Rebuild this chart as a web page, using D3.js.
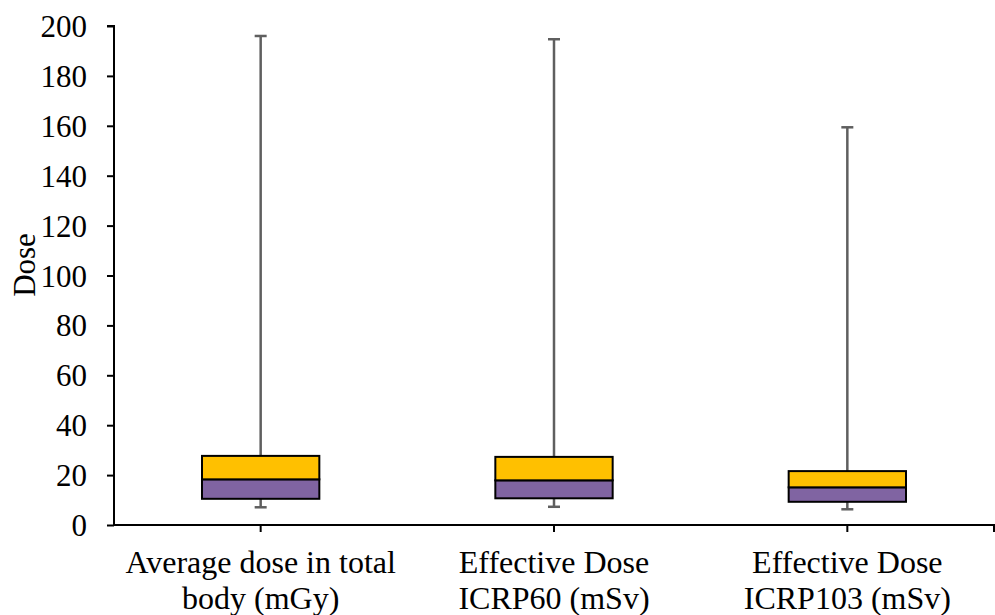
<!DOCTYPE html>
<html><head><meta charset="utf-8">
<script src="https://cdn.jsdelivr.net/npm/d3@7"></script>
<style>body{margin:0;background:#fff}svg{display:block}text{font-family:"Liberation Serif","Times New Roman",serif;fill:#000}</style>
</head><body><svg id="c" width="995" height="615"></svg>
<script>
const categories = [["Average dose in total","body (mGy)"],["Effective Dose","ICRP60 (mSv)"],["Effective Dose","ICRP103 (mSv)"]];
const minValues = [7.1, 7.3, 6.3];
const q1Values = [10.5, 10.7, 9.3];
const medianValues = [18.3, 17.9, 15.1];
const q3Values = [27.7, 27.3, 21.6];
const maxValues = [196, 194.7, 159.4];
const yTicks = [0,20,40,60,80,100,120,140,160,180,200];

const svg = d3.select("#c");
const m = {l:114, r:994, t:26, b:525};
const x = d3.scaleBand().domain(d3.range(categories.length)).range([m.l, m.r]).paddingInner(0.6).paddingOuter(0.3);
const y = d3.scaleLinear().domain([0,200]).range([m.b, m.t]);

const g = svg.append("g");
// y axis
const ya = d3.axisLeft(y).tickValues(yTicks).tickSize(7).tickPadding(20);
const yg = svg.append("g").attr("transform",`translate(${m.l},0)`).call(ya);
yg.select(".domain").attr("stroke","#000").attr("stroke-width",2).attr("d",`M-7,${m.t}H0V${m.b}`);
yg.selectAll(".tick line").attr("stroke","#000").attr("stroke-width",2);
yg.selectAll(".tick text").style("font-size","31px").attr("dy","0.34em");

// x axis
const centers = d3.range(categories.length).map(i => x(i)+x.bandwidth()/2);
svg.append("line").attr("x1",m.l).attr("x2",m.r+1).attr("y1",m.b).attr("y2",m.b).attr("stroke","#000").attr("stroke-width",2);
[...centers, m.r].forEach(cx => {
  svg.append("line").attr("x1",cx).attr("x2",cx).attr("y1",m.b).attr("y2",m.b+7).attr("stroke","#000").attr("stroke-width",2);
});
categories.forEach((lines,i)=>{
  const t = svg.append("text").attr("x",centers[i]).attr("y",573).attr("text-anchor","middle").style("font-size","32px");
  lines.forEach((ln,j)=> t.append("tspan").attr("x",centers[i]).attr("dy", j===0?0:36).text(ln));
});

// y label
svg.append("text").attr("transform","translate(35,265) rotate(-90)").attr("text-anchor","middle").style("font-size","31px").text("Dose");

// boxes
const bw = x.bandwidth();
d3.range(categories.length).forEach(i=>{
  const cx = centers[i];
  g.append("line").attr("x1",cx).attr("x2",cx).attr("y1",y(maxValues[i])).attr("y2",y(q3Values[i])).attr("stroke","#5f5f5f").attr("stroke-width",2.5);
  g.append("line").attr("x1",cx-6).attr("x2",cx+6).attr("y1",y(maxValues[i])).attr("y2",y(maxValues[i])).attr("stroke","#5f5f5f").attr("stroke-width",2.5);
  g.append("line").attr("x1",cx).attr("x2",cx).attr("y1",y(q1Values[i])).attr("y2",y(minValues[i])).attr("stroke","#5f5f5f").attr("stroke-width",2.5);
  g.append("line").attr("x1",cx-6).attr("x2",cx+6).attr("y1",y(minValues[i])).attr("y2",y(minValues[i])).attr("stroke","#5f5f5f").attr("stroke-width",2.5);
  g.append("rect").attr("x",x(i)).attr("width",bw).attr("y",y(medianValues[i])).attr("height",y(q1Values[i])-y(medianValues[i])).attr("fill","#8064A2").attr("stroke","#000").attr("stroke-width",2);
  g.append("rect").attr("x",x(i)).attr("width",bw).attr("y",y(q3Values[i])).attr("height",y(medianValues[i])-y(q3Values[i])).attr("fill","#FFC000").attr("stroke","#000").attr("stroke-width",2);
});
</script></body></html>
